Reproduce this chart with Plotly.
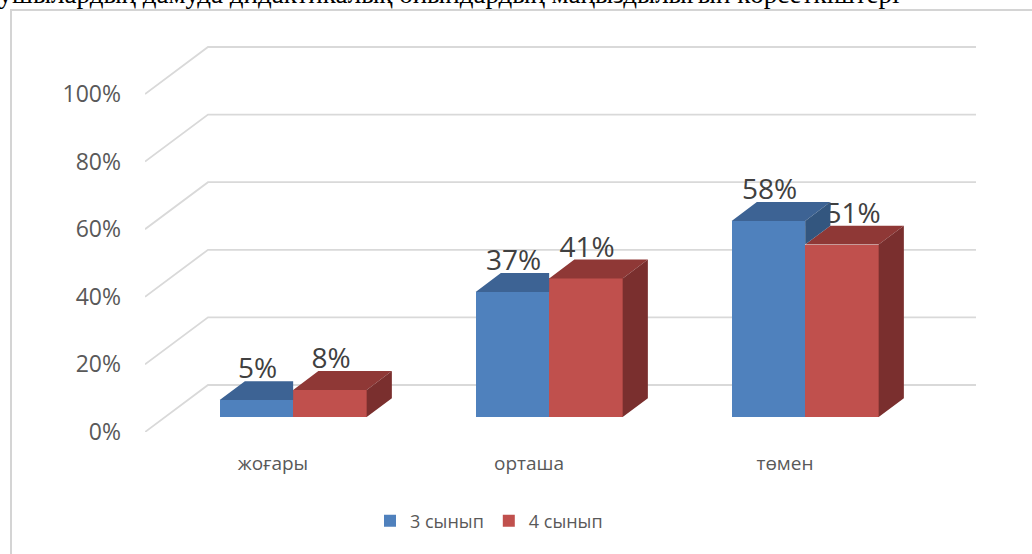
import plotly.graph_objects as go

# ---------------- data ----------------
categories = ["жоғары", "орташа", "төмен"]
series_names = ["3 сынып", "4 сынып"]
values_3 = [5, 37, 58]
values_4 = [8, 41, 51]
y_ticks = [0, 20, 40, 60, 80, 100]
y_tick_labels = ["0%", "20%", "40%", "60%", "80%", "100%"]
header_text = "оқушылардың дамуда дидактикалық ойындардың маңыздылығын көрсеткіштері"

# ---------------- geometry / style ----------------
W, H = 1032, 554
ML, MR, MT, MB = 145, 32, 40, 122
PX_X = 256.0           # pixels per category step
PX_Y = 3.38            # pixels per percent
plot_w = W - ML - MR
plot_h = H - MT - MB
x_range = [-0.5, -0.5 + plot_w / PX_X]
y_range = [0, plot_h / PX_Y]
DX = 63 / PX_X         # oblique depth offset (x units)
DY = 47 / PX_Y         # oblique depth offset (y units)
D_FRONT, D_BACK = 0.32, 0.72
BAR_W = 73.5 / PX_X
LABEL_NUDGE_PX_3 = [0, 0, 0]
LABEL_NUDGE_PX_4 = [0, 0, 10]

BLUE = dict(front="#4F81BD", top="#3D6394", side="#33567F")
RED = dict(front="#C0504D", top="#8F3836", side="#7A2F2E")
GRID = "#D9D9D9"
FONT = "Open Sans"

fig = go.Figure()

# ---- gridlines (left wall + back wall) as shapes below traces ----
n = len(categories)
for t in y_ticks:
    path = (f"M {-0.5},{t} L {-0.5 + DX},{t + DY} "
            f"L {n - 0.5 + DX},{t + DY}")
    fig.add_shape(type="path", path=path, xref="x", yref="y",
                  line=dict(color=GRID, width=1.8), layer="below")

# ---- front faces as bars ----
fx = D_FRONT * DX
bx = D_BACK * DX
fy = D_FRONT * DY
by = D_BACK * DY
xs = list(range(n))

fig.add_trace(go.Bar(x=[i + fx for i in xs], y=values_3, base=fy, width=BAR_W,
                     offset=-BAR_W, name=series_names[0],
                     marker=dict(color=BLUE["front"], line=dict(width=0)),
                     hoverinfo="skip"))
fig.add_trace(go.Bar(x=[i + fx for i in xs], y=values_4, base=fy, width=BAR_W,
                     offset=0, name=series_names[1],
                     marker=dict(color=RED["front"], line=dict(width=0)),
                     hoverinfo="skip"))


def poly_trace(polys, color):
    px, py = [], []
    for p in polys:
        for (a, b) in p:
            px.append(a)
            py.append(b)
        px.append(p[0][0])
        py.append(p[0][1])
        px.append(None)
        py.append(None)
    return go.Scatter(x=px, y=py, mode="lines", fill="toself", fillcolor=color,
                      line=dict(width=0, color=color), showlegend=False,
                      hoverinfo="skip")


red_top, red_side, blue_top, blue_side = [], [], [], []
for i in xs:
    vb, vr = values_3[i], values_4[i]
    # red bar (right)
    x0, x1 = i, i + BAR_W
    red_top.append([(x0 + fx, vr + fy), (x1 + fx, vr + fy), (x1 + bx, vr + by), (x0 + bx, vr + by)])
    red_side.append([(x1 + fx, fy), (x1 + bx, by), (x1 + bx, vr + by), (x1 + fx, vr + fy)])
    # blue bar (left)
    x0, x1 = i - BAR_W, i
    if vr >= vb:
        blue_top.append([(x0 + fx, vb + fy), (x1 + fx, vb + fy), (x1 + fx, vb + by), (x0 + bx, vb + by)])
    else:
        blue_top.append([(x0 + fx, vb + fy), (x1 + fx, vb + fy), (x1 + bx, vb + by), (x0 + bx, vb + by)])
        blue_side.append([(x1 + fx, vr + fy), (x1 + bx, vr + by), (x1 + bx, vb + by), (x1 + fx, vb + fy)])

fig.add_trace(poly_trace(red_top, RED["top"]))
fig.add_trace(poly_trace(red_side, RED["side"]))
fig.add_trace(poly_trace(blue_top, BLUE["top"]))

label_dy = 10.0 / PX_Y
# red labels (drawn before blue side faces so they can be occluded)
fig.add_trace(go.Scatter(x=[i + BAR_W / 2 + fx + 0.005 + LABEL_NUDGE_PX_4[i] / PX_X for i in xs],
                         y=[v + by + label_dy for v in values_4],
                         text=[f"{v}%" for v in values_4], mode="text",
                         textposition="middle center",
                         textfont=dict(family=FONT, size=28, color="#404040"),
                         showlegend=False, hoverinfo="skip", cliponaxis=False))
if blue_side:
    fig.add_trace(poly_trace(blue_side, BLUE["side"]))
fig.add_trace(go.Scatter(x=[i - BAR_W / 2 + fx + 0.005 + LABEL_NUDGE_PX_3[i] / PX_X for i in xs],
                         y=[v + by + label_dy for v in values_3],
                         text=[f"{v}%" for v in values_3], mode="text",
                         textposition="middle center",
                         textfont=dict(family=FONT, size=28, color="#404040"),
                         showlegend=False, hoverinfo="skip", cliponaxis=False))

# ---- chart box border ----
def px2paper_x(p):
    return (p - ML) / plot_w


def px2paper_y(p):
    return (H - MB - p) / plot_h


fig.add_shape(type="rect", xref="paper", yref="paper",
              x0=px2paper_x(11), x1=px2paper_x(1045),
              y0=px2paper_y(570), y1=px2paper_y(10),
              line=dict(color="#D4D4D4", width=2), layer="below")

# ---- cut-off document text above the chart ----
fig.add_annotation(text=header_text, xref="paper", yref="paper",
                   x=px2paper_x(-30), y=px2paper_y(11),
                   xanchor="left", yanchor="bottom", showarrow=False,
                   font=dict(family="Liberation Serif", size=27, color="#000000"))

fig.update_layout(
    width=W, height=H,
    margin=dict(l=ML, r=MR, t=MT, b=MB, autoexpand=False),
    paper_bgcolor="white", plot_bgcolor="white",
    barmode="overlay",
    bargap=0,
    showlegend=True,
    legend=dict(orientation="h", x=px2paper_x(489), y=px2paper_y(521),
                xanchor="center", yanchor="middle",
                font=dict(family=FONT, size=18, color="#595959"),
                traceorder="normal", bgcolor="rgba(0,0,0,0)"),
    xaxis=dict(range=x_range, tickvals=xs, ticktext=categories,
               showgrid=False, zeroline=False, showline=False, ticks="",
               ticklabelstandoff=18, automargin=False, fixedrange=True,
               tickfont=dict(family=FONT, size=19, color="#595959")),
    yaxis=dict(range=y_range, tickvals=y_ticks, ticktext=y_tick_labels,
               showgrid=False, zeroline=False, showline=False, ticks="",
               ticklabelstandoff=23, automargin=False, fixedrange=True,
               tickfont=dict(family=FONT, size=23, color="#595959")),
)

fig.write_html("out.html",
               config={"displayModeBar": False},
               post_script="document.body.style.margin='0px';"
                           "document.body.style.overflow='hidden';")
